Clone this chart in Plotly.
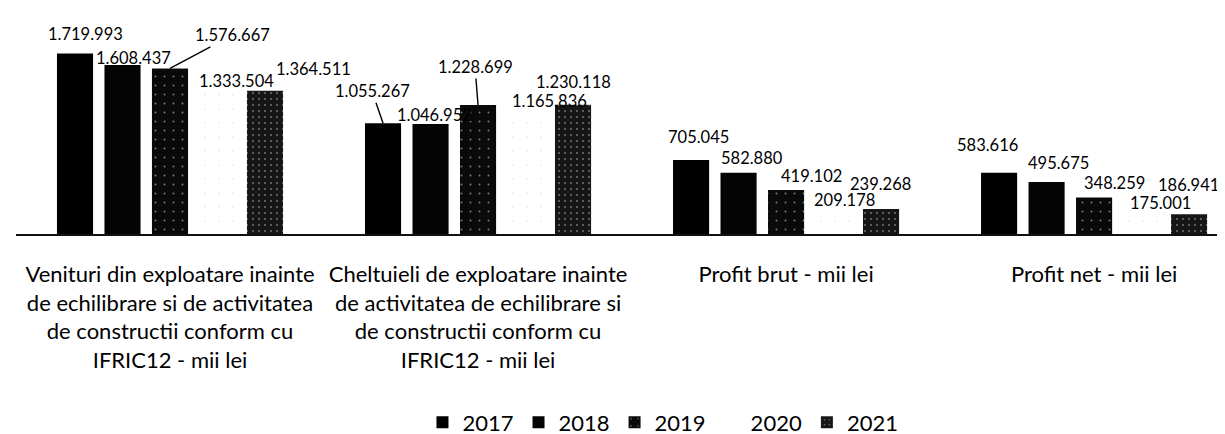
import plotly.graph_objects as go

# ---------------- data ----------------
categories = [
    "Venituri din exploatare inainte<br>de echilibrare si de activitatea<br>de constructii conform cu<br>IFRIC12 - mii lei",
    "Cheltuieli de exploatare inainte<br>de activitatea de echilibrare si<br>de constructii conform cu<br>IFRIC12 - mii lei",
    "Profit brut - mii lei",
    "Profit net - mii lei",
]
years = ["2017", "2018", "2019", "2020", "2021"]

v2017 = [1719993, 1055267, 705045, 583616]
v2018 = [1608437, 1046952, 582880, 495675]
v2019 = [1576667, 1228699, 419102, 348259]
v2020 = [1333504, 1165836, 209178, 175001]
v2021 = [1364511, 1230118, 239268, 186941]
series = [v2017, v2018, v2019, v2020, v2021]

# ---------------- styling / layout ----------------
W, H = 1225, 434
margin = dict(l=8, r=0, t=10, b=208)
x_range = [-0.5, 3.451]
y_range = [0, 2057000]
bargap = 0.229
bargroupgap = 0.24
FONT = "Lato, 'Open Sans', sans-serif"

bar_styles = [
    dict(color="#000000"),
    dict(color="#040404"),
    dict(color="#0a0a0a", pattern=dict(shape=".", fgcolor="#f0f0f0", bgcolor="#0a0a0a",
                                       size=9, solidity=0.035)),
    dict(color="#ffffff", pattern=dict(shape=".", fgcolor="#d9d9d9", bgcolor="#ffffff",
                                       size=14, solidity=0.015)),
    dict(color="#161616", pattern=dict(shape=".", fgcolor="#d0d0d0", bgcolor="#161616",
                                       size=6, solidity=0.09)),
]

# label placement relative to top-centre of each bar: (dx px, px above top, leader line?)
label_offsets = [
    [(10, 19, False), (-11, 32, True), (7, 23, False), (-12, 28, False)],
    [(10.5, 7, False), (3.5, 8.6, False), (13.5, 15, False), (12, 19, False)],
    [(62, 33, True), (-3, 38, True), (25, 13.5, False), (20, 14, False)],
    [(18.5, 13, False), (23.5, 10.6, False), (10.5, 12.5, False), (19, 13, False)],
    [(48, 22, False), (0, 23, False), (-1, 25, False), (-1, 29, False)],
]

def fmt(v):
    return f"{v:,}".replace(",", ".")

x_idx = list(range(len(categories)))

fig = go.Figure()
for yr, vals, st in zip(years, series, bar_styles):
    marker = dict(line=dict(width=0), **st)
    fig.add_trace(go.Bar(x=x_idx, y=vals, name=yr, marker=marker, hoverinfo="skip"))

# pixel geometry derived from the axis scale
plot_w = W - margin["l"] - margin["r"]
cat_px = plot_w / (x_range[1] - x_range[0])
slot_px = cat_px * (1 - bargap) / len(years)

annotations = []
for k, (vals, offs) in enumerate(zip(series, label_offsets)):
    bar_shift = (k - (len(years) - 1) / 2) * slot_px
    for i, (v, (dx, up, leader)) in enumerate(zip(vals, offs)):
        if leader:
            annotations.append(dict(
                x=i, y=v, xref="x", yref="y", text=fmt(v),
                xshift=bar_shift, showarrow=True, arrowhead=0, arrowwidth=1.4,
                arrowcolor="#000000", ax=dx, ay=-up, standoff=0,
                font=dict(family=FONT, size=16.5, color="#000000"),
            ))
        else:
            annotations.append(dict(
                x=i, y=v, xref="x", yref="y", text=fmt(v),
                xshift=bar_shift + dx, yshift=up, showarrow=False,
                xanchor="center", yanchor="middle",
                font=dict(family=FONT, size=16.5, color="#000000"),
            ))

fig.update_layout(
    width=W, height=H,
    margin=dict(autoexpand=False, **margin),
    paper_bgcolor="#ffffff", plot_bgcolor="#ffffff",
    barmode="group", bargap=bargap, bargroupgap=bargroupgap,
    font=dict(family=FONT, color="#000000"),
    showlegend=True,
    legend=dict(
        orientation="h", x=0.334, xanchor="left", y=-0.775, yanchor="top",
        font=dict(family=FONT, size=22, color="#000000"),
        bgcolor="rgba(0,0,0,0)", itemwidth=30, traceorder="normal",
    ),
    annotations=annotations,
    xaxis=dict(
        range=x_range, tickmode="array", tickvals=x_idx, ticktext=categories,
        showline=True, linecolor="#111111", linewidth=1.6, ticks="",
        showgrid=False, zeroline=False, ticklabelstandoff=20,
        tickfont=dict(family=FONT, size=22, color="#000000"), fixedrange=True,
    ),
    yaxis=dict(range=y_range, visible=False, showgrid=False, zeroline=False, fixedrange=True),
)

fig.write_html("out.html")
